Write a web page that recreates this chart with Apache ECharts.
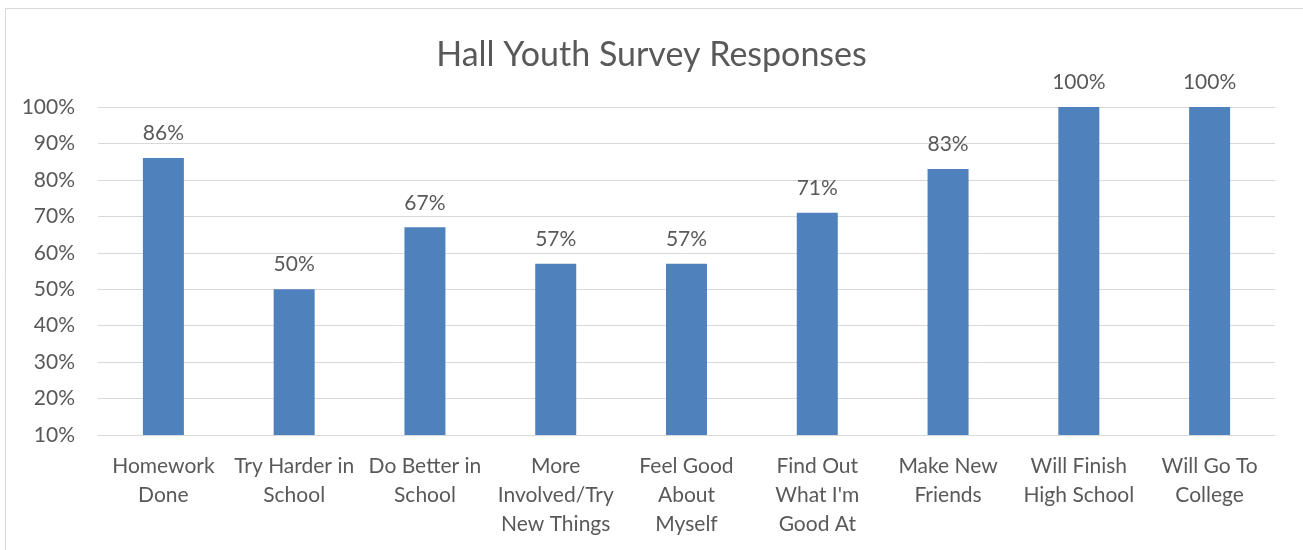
<!DOCTYPE html>
<html>
<head>
<meta charset="utf-8">
<script src="https://cdn.jsdelivr.net/npm/echarts@6/dist/echarts.min.js"></script>
<style>
html,body{margin:0;padding:0;background:#fff;}
#chart{width:1303px;height:550px;}
</style>
</head>
<body>
<div id="chart"></div>
<script>
const titleText = 'Hall Youth Survey Responses';
const categories = [
  'Homework\nDone',
  'Try Harder in\nSchool',
  'Do Better in\nSchool',
  'More\nInvolved/Try\nNew Things',
  'Feel Good\nAbout\nMyself',
  'Find Out\nWhat I\'m\nGood At',
  'Make New\nFriends',
  'Will Finish\nHigh School',
  'Will Go To\nCollege'
];
const values = [86, 50, 67, 57, 57, 71, 83, 100, 100];
const yMin = 10, yMax = 100, yStep = 10;

const FONT = 'Lato';
const TXT = '#595959';
const chart = echarts.init(document.getElementById('chart'), null, {renderer: 'canvas'});
chart.setOption({
  animation: false,
  backgroundColor: '#fff',
  graphic: [{
    type: 'rect', silent: true, z: -1,
    shape: {x: 5.5, y: 8.5, width: 1400, height: 700},
    style: {fill: 'none', stroke: '#d9d9d9', lineWidth: 1}
  }],
  title: {
    text: titleText, left: 'center', top: 33,
    textStyle: {fontFamily: FONT, fontSize: 34, fontWeight: 'normal', color: TXT}
  },
  grid: {left: 98, right: 28, top: 107, bottom: 115, containLabel: false},
  xAxis: {
    type: 'category', data: categories,
    axisLine: {show: true, lineStyle: {color: '#d9d9d9', width: 1}},
    axisTick: {show: false},
    axisLabel: {fontFamily: FONT, fontSize: 21, color: TXT, lineHeight: 29, margin: 17, interval: 0}
  },
  yAxis: {
    type: 'value', min: yMin, max: yMax, interval: yStep,
    axisLine: {show: false}, axisTick: {show: false},
    axisLabel: {fontFamily: FONT, fontSize: 21, color: TXT, margin: 23, formatter: '{value}%'},
    splitLine: {lineStyle: {color: '#d9d9d9', width: 1}}
  },
  series: [{
    type: 'bar', data: values, barWidth: 41,
    itemStyle: {color: '#4f81bd'},
    label: {show: true, position: 'top', distance: 14, formatter: '{c}%',
      fontFamily: FONT, fontSize: 21, color: TXT}
  }]
});
</script>
</body>
</html>
